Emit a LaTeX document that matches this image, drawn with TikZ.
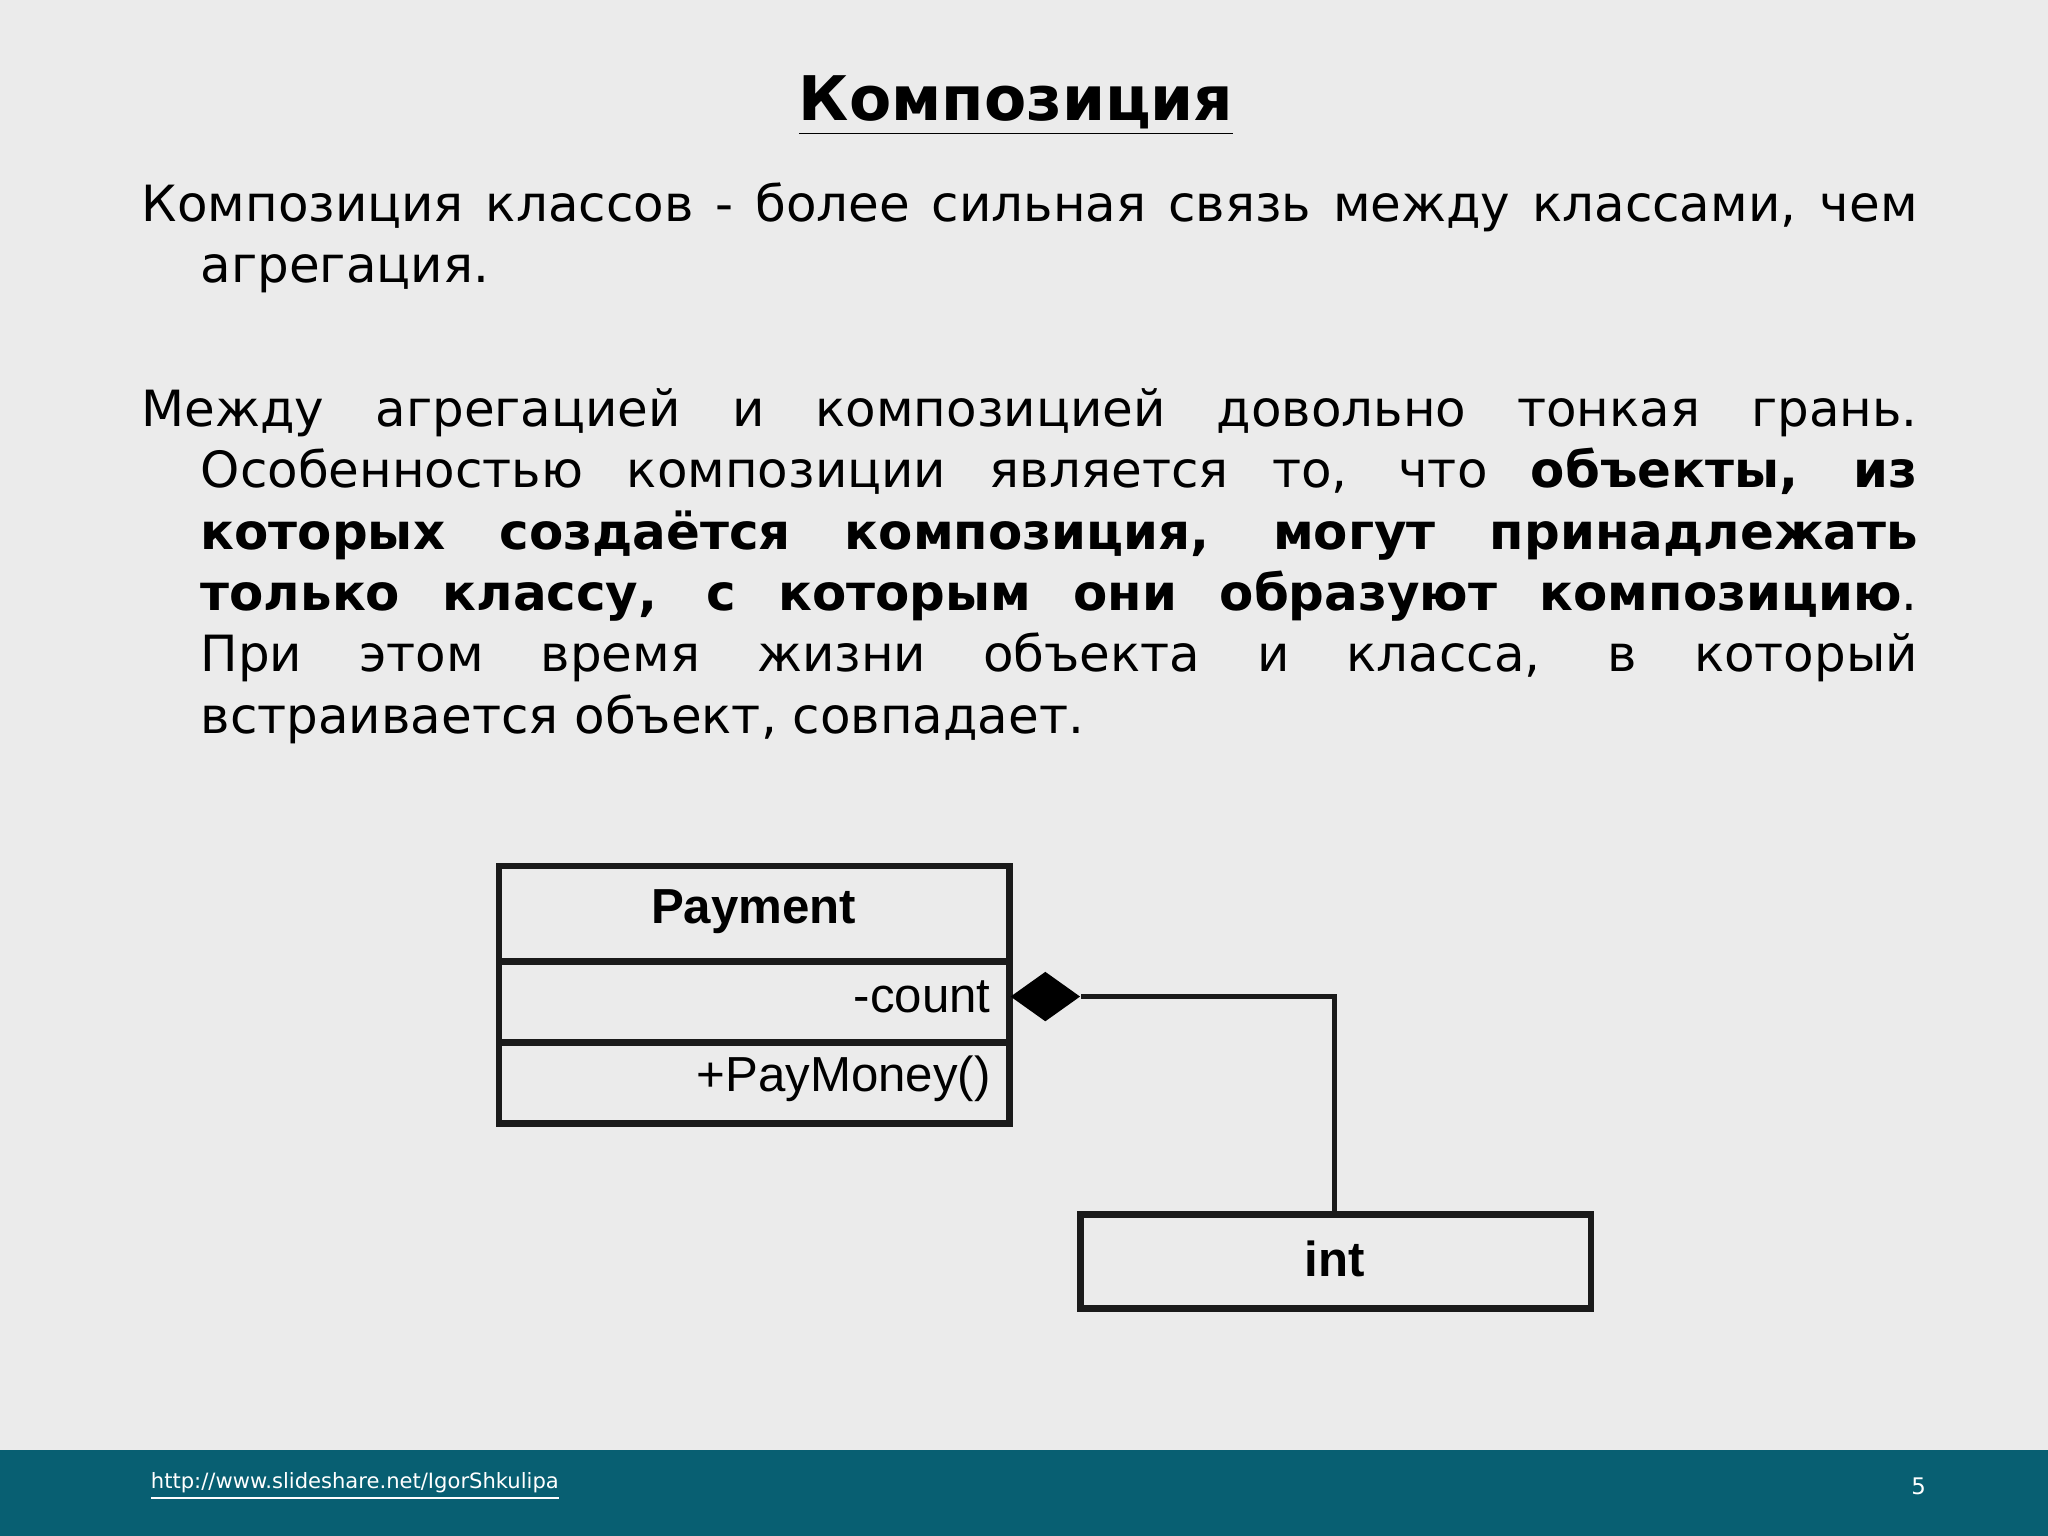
\documentclass[tikz,border=0pt]{standalone}
\usepackage{fontspec}
\setmainfont{DejaVu Sans}
\newfontfamily\arial{Liberation Sans}
\usetikzlibrary{shapes.geometric}
\definecolor{bg}{HTML}{EBEBEB}
\definecolor{bar}{HTML}{085F72}
\definecolor{uml}{HTML}{1A1A1A}
\tikzset{umlline/.style={draw=uml,line width=1.9pt},
 para/.style={anchor=north west,inner sep=0pt,text width=17.76cm,align=justify,font=\fontsize{14.2}{17.45}\selectfont}}
\begin{document}
\begin{tikzpicture}[x=0.013061cm,y=-0.013061cm]
\fill[bg] (0,0) rectangle (1568,1176);
\useasboundingbox (0,0) rectangle (1568,1176);
\fill[bar] (0,1110) rectangle (1568,1176);
\node[font=\fontsize{17.5}{20}\selectfont\bfseries,anchor=base] (title) at (778,92) {\underline{Композиция}};
\node[para] (p1) at (108,139) {\hangindent=0.59cm\hangafter=1 Композиция классов - более сильная связь между классами, чем агрегация.\par};
\node[para] (p2) at (108,297) {\hangindent=0.59cm\hangafter=1 Между агрегацией и композицией довольно тонкая грань. Особенностью композиции является то, что \textbf{объекты, из которых создаётся композиция, могут принадлежать только классу, с которым они образуют композицию}.\linebreak При этом время жизни объекта и класса, в который\linebreak встраивается объект, совпадает.\par};
% UML
\draw[umlline] (382,663) rectangle (773,860);
\draw[umlline] (382,736) -- (773,736);
\draw[umlline] (382,798) -- (773,798);
\node[font=\arial\bfseries\fontsize{14}{16}\selectfont] (pay) at (577,698) {Payment};
\node[font=\arial\fontsize{14}{16}\selectfont,anchor=east] (cnt) at (768,763) {-count};
\node[font=\arial\fontsize{14}{16}\selectfont,anchor=east] (pm) at (768,826) {+PayMoney()};
\draw[umlline] (827,930) rectangle (1218,1002);
\node[font=\arial\bfseries\fontsize{14}{16}\selectfont] (int) at (1022,964) {int};
\coordinate (d0) at (773,763);
\node[diamond,fill=black,minimum width=0.7cm,minimum height=0.5cm,inner sep=0pt,anchor=west] (dia) at (d0) {};
\draw[uml,line width=1.5pt] (dia.east) -| (int.north |- 930,930);
% footer
\node[font=\fontsize{6}{7}\selectfont,text=white,anchor=west,inner sep=0pt] (url) at (115,1138) {\underline{http://www.slideshare.net/IgorShkulipa}};
\node[font=\fontsize{6.5}{8}\selectfont,text=white] (num) at (1469,1138) {5};
\end{tikzpicture}
\end{document}
